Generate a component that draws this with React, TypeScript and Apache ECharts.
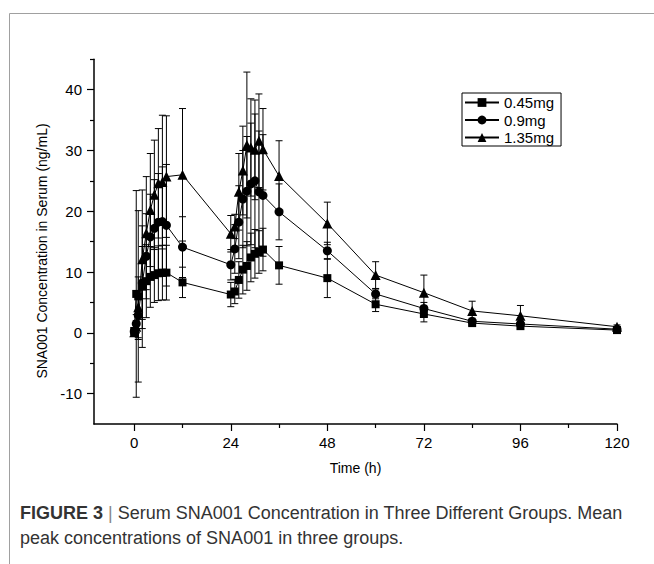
import React, { useEffect, useRef } from 'react';
import * as echarts from 'echarts';

// Sampling times (h)
const times = [0, 0.5, 1, 2, 3, 4, 5, 6, 7, 8, 12, 24, 25, 26, 27, 28, 29, 30, 31, 32, 36, 48, 60, 72, 84, 96, 120];

// Mean concentrations (ng/mL)
const mean045 = [0.3, 6.4, 6.0, 7.6, 8.5, 9.2, 9.5, 9.8, 9.9, 9.9, 8.3, 6.3, 6.8, 8.7, 10.4, 11.0, 12.4, 13.0, 13.3, 13.7, 11.1, 9.0, 4.7, 3.1, 1.6, 1.1, 0.45];
const mean09 = [0.2, 1.5, 2.9, 8.2, 12.6, 15.8, 17.2, 18.2, 18.3, 17.7, 14.1, 11.2, 13.8, 18.2, 22.0, 23.3, 24.5, 25.0, 23.2, 22.6, 19.9, 13.5, 6.4, 4.0, 1.9, 1.45, 0.6];
const mean135 = [0.1, 1.0, 4.2, 12.1, 16.4, 20.2, 22.7, 24.6, 24.8, 25.7, 26.0, 16.3, 17.5, 23.2, 26.7, 30.9, 30.5, 30.1, 31.6, 30.2, 25.8, 18.0, 9.5, 6.6, 3.6, 2.8, 1.0];

// Standard deviations (ng/mL)
const sd045 = [0.3, 17.0, 14.1, 10.0, 6.0, 5.0, 4.5, 4.5, 4.5, 4.5, 2.5, 2.0, 2.0, 3.0, 4.0, 4.0, 4.0, 4.0, 3.5, 3.5, 3.1, 3.2, 1.2, 1.3, 0.4, 0.3, 0.2];
const sd09 = [0.2, 1.5, 4.0, 6.0, 7.0, 7.0, 8.0, 8.0, 9.0, 10.0, 5.0, 2.5, 4.0, 6.0, 8.0, 9.0, 10.0, 11.0, 10.0, 10.0, 4.6, 1.4, 0.8, 1.0, 0.5, 0.4, 0.2];
const sd135 = [0.3, 1.0, 5.0, 11.4, 9.3, 9.3, 9.0, 9.0, 11.0, 10.0, 10.9, 3.0, 2.0, 6.3, 7.3, 12.0, 8.0, 8.2, 7.7, 6.7, 5.8, 3.5, 2.2, 2.9, 1.6, 1.7, 0.3];

const seriesNames = ['0.45mg', '0.9mg', '1.35mg'];
const seriesSymbols = ['rect', 'circle', 'triangle'];

const xMajorTicks = [0, 24, 48, 72, 96, 120];
const xMinorTicks = [12, 36, 60, 84, 108];
const yMajorTicks = [-10, 0, 10, 20, 30, 40];
const yMinorTicks = [-5, 5, 15, 25, 35, 45];

const FONT = '"Liberation Sans", Arial, Helvetica, sans-serif';

export default function App() {
  const ref = useRef<HTMLDivElement>(null);

  useEffect(() => {
    if (!ref.current) return;
    const chart = echarts.init(ref.current, undefined, { renderer: 'svg' });

    const means = [mean045, mean09, mean135];
    const sds = [sd045, sd09, sd135];
    const symbolSizes = [8, 9, 10];

    const errSeries = means.map((m, si) => ({
      type: 'custom',
      name: seriesNames[si] + ' SD',
      xAxisIndex: 0,
      yAxisIndex: 0,
      silent: true,
      z: 1,
      data: times.map((t, i) => [t, m[i] - sds[si][i], m[i] + sds[si][i]]),
      encode: { x: 0, y: [1, 2] },
      renderItem: (params: any, api: any) => {
        const x = api.value(0);
        const lo = api.coord([x, api.value(1)]);
        const hi = api.coord([x, api.value(2)]);
        const w = 3.5;
        const st = { stroke: '#000', lineWidth: 1 };
        return {
          type: 'group',
          children: [
            { type: 'line', shape: { x1: lo[0], y1: lo[1], x2: hi[0], y2: hi[1] }, style: st },
            { type: 'line', shape: { x1: lo[0] - w, y1: lo[1], x2: lo[0] + w, y2: lo[1] }, style: st },
            { type: 'line', shape: { x1: hi[0] - w, y1: hi[1], x2: hi[0] + w, y2: hi[1] }, style: st },
          ],
        };
      },
    }));

    const lineSeries = means.map((m, si) => ({
      type: 'line',
      name: seriesNames[si],
      xAxisIndex: 0,
      yAxisIndex: 0,
      z: 3,
      data: times.map((t, i) => [t, m[i]]),
      symbol: seriesSymbols[si],
      symbolSize: symbolSizes[si],
      showAllSymbol: true,
      itemStyle: { color: '#000' },
      lineStyle: { color: '#000', width: 1 },
    }));

    const axisLineStyle = { lineStyle: { color: '#000', width: 1.5 } };

    chart.setOption({
      animation: false,
      backgroundColor: '#fff',
      textStyle: { fontFamily: FONT },
      grid: { left: 94, right: 37, top: 59.3, bottom: 140, containLabel: false },
      xAxis: [
        {
          type: 'value',
          min: -10,
          max: 120,
          name: 'Time (h)',
          nameLocation: 'middle',
          nameGap: 37,
          nameTextStyle: { fontSize: 14, color: '#000', fontFamily: FONT },
          axisLine: { show: true, onZero: false, ...axisLineStyle },
          axisTick: { show: true, inside: false, length: 7, customValues: xMajorTicks, lineStyle: { color: '#000', width: 1.2 } },
          axisLabel: { show: true, customValues: xMajorTicks, fontSize: 15, color: '#000', margin: 11, fontFamily: FONT },
          splitLine: { show: false },
        },
        {
          type: 'value',
          min: -10,
          max: 120,
          position: 'bottom',
          axisLine: { show: false, onZero: false },
          axisTick: { show: true, inside: false, length: 4, customValues: xMinorTicks, lineStyle: { color: '#000', width: 1.2 } },
          axisLabel: { show: false },
          splitLine: { show: false },
        },
      ],
      yAxis: [
        {
          type: 'value',
          min: -15,
          max: 45,
          axisLine: { show: true, onZero: false, ...axisLineStyle },
          axisTick: { show: true, inside: false, length: 7, customValues: yMajorTicks, lineStyle: { color: '#000', width: 1.2 } },
          axisLabel: { show: true, customValues: yMajorTicks, fontSize: 15, color: '#000', margin: 12, fontFamily: FONT },
          splitLine: { show: false },
        },
        {
          type: 'value',
          min: -15,
          max: 45,
          position: 'left',
          axisLine: { show: false, onZero: false },
          axisTick: { show: true, inside: false, length: 4, customValues: yMinorTicks, lineStyle: { color: '#000', width: 1.2 } },
          axisLabel: { show: false },
          splitLine: { show: false },
        },
      ],
      legend: {
        data: seriesNames,
        orient: 'vertical',
        left: 462,
        top: 93,
        itemWidth: 34,
        itemHeight: 11,
        itemGap: 2.5,
        padding: [2, 7, 1, 2],
        borderColor: '#000',
        borderWidth: 1,
        textStyle: { fontSize: 15, color: '#000', fontFamily: FONT },
      },
      graphic: [
        { type: 'line', shape: { x1: 9.5, y1: 13.5, x2: 654, y2: 13.5 }, style: { stroke: '#a0a0a0', lineWidth: 1 } },
        { type: 'line', shape: { x1: 9.5, y1: 13.5, x2: 9.5, y2: 564 }, style: { stroke: '#a0a0a0', lineWidth: 1 } },
        {
          type: 'text',
          x: 42,
          y: 251,
          rotation: Math.PI / 2,
          style: {
            text: 'SNA001 Concentration in Serum (ng/mL)',
            fontSize: 14,
            fontFamily: FONT,
            fill: '#000',
            align: 'center',
            verticalAlign: 'middle',
          },
        },
        {
          type: 'text',
          x: 20,
          y: 500,
          style: {
            text: '{b|FIGURE 3} {g||} Serum SNA001 Concentration in Three Different Groups. Mean\npeak concentrations of SNA001 in three groups.',
            fontSize: 18,
            lineHeight: 25,
            fontFamily: FONT,
            fill: '#333',
            align: 'left',
            verticalAlign: 'top',
            rich: {
              b: { fontWeight: 'bold', fontSize: 18, fontFamily: FONT, fill: '#333', lineHeight: 25 },
              g: { fontSize: 18, fontFamily: FONT, fill: '#888', lineHeight: 25 },
            },
          },
        },
      ],
      series: [...errSeries, ...lineSeries],
    });

    return () => chart.dispose();
  }, []);

  return (
    <div
      ref={ref}
      style={{ position: 'absolute', left: 0, top: 0, width: 654, height: 564, background: '#fff' }}
    />
  );
}
